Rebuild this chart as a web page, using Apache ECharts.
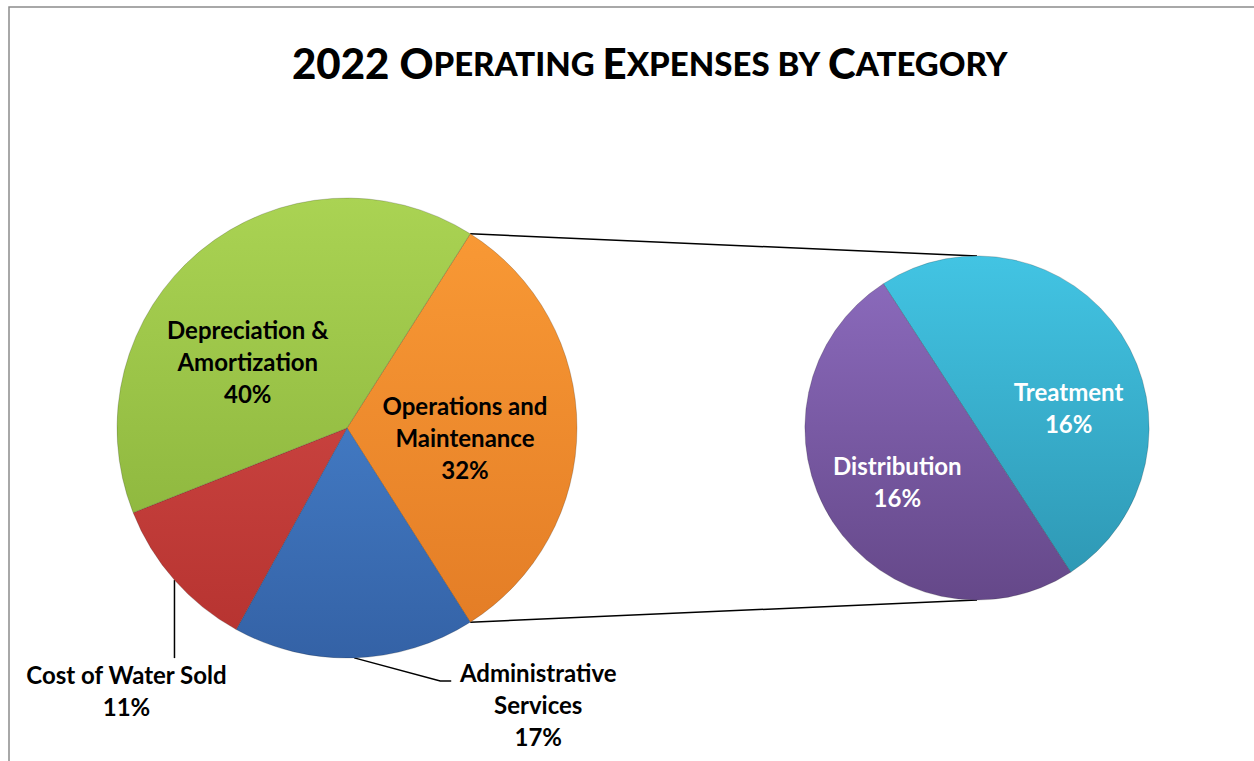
<!DOCTYPE html>
<html>
<head>
<meta charset="utf-8">
<script src="https://cdn.jsdelivr.net/npm/echarts@6/dist/echarts.min.js"></script>
<style>
html,body{margin:0;padding:0;background:#fff;}
#c{width:1254px;height:761px;}
</style>
</head>
<body>
<div id="c"></div>
<script>
// ---- data ----
const mainCategories = ['Operations and\nMaintenance', 'Administrative\nServices', 'Cost of Water Sold', 'Depreciation &\nAmortization'];
const mainValues = [32, 17, 11, 40];
const subCategories = ['Treatment', 'Distribution'];
const subValues = [16, 16];

// ---- styles ----
const mainTop = ['#FA9B36', '#4F8FDD', '#D9504C', '#AAD353'];
const mainBottom = ['#E27B25', '#3462A6', '#B5322F', '#84AD37'];
const subTop = ['#42C4E3', '#8D6CBF'];
const subBottom = ['#2D95B1', '#654889'];
const FONT = 'Lato';

const mainCenter = [347, 428], mainRadius = 230;
const subCenter = [977, 428], subRadius = 172;

const sum = a => a.reduce((s, v) => s + v, 0);
const mainTotal = sum(mainValues);
const mainStart = mainValues[0] / mainTotal * 360 / 2;
const subStart = 123;

function grad(c, r, top, bottom) {
  return {type: 'linear', x: 0, y: c[1] - r, x2: 0, y2: c[1] + r, global: true,
    colorStops: [{offset: 0, color: top}, {offset: 1, color: bottom}]};
}
function edgePoint(values, start, idx, center, r) {
  let acc = 0;
  for (let k = 0; k < idx; k++) acc += values[k];
  const a = (start - (acc + values[idx] / 2) / sum(values) * 360) * Math.PI / 180;
  return [center[0] + r * Math.cos(a), center[1] - r * Math.sin(a)];
}
function anglePoint(deg, center, r) {
  const a = deg * Math.PI / 180;
  return [center[0] + r * Math.cos(a), center[1] - r * Math.sin(a)];
}

const labelBase = {fontFamily: FONT, fontWeight: 'bold', fontSize: 24, lineHeight: 32, formatter: '{b}\n{c}%'};

const mainData = mainCategories.map((n, i) => {
  const outside = (i === 1 || i === 2);
  return {
    name: n, value: mainValues[i],
    itemStyle: {color: grad(mainCenter, mainRadius, mainTop[i], mainBottom[i])},
    label: Object.assign({}, labelBase, {show: true, position: outside ? 'outside' : 'inside', color: '#000'}),
    labelLine: {show: outside, lineStyle: {color: '#000', width: 1.5}}
  };
});
const subData = subCategories.map((n, i) => ({
  name: n, value: subValues[i],
  itemStyle: {color: grad(subCenter, subRadius, subTop[i], subBottom[i])},
  label: Object.assign({}, labelBase, {show: true, position: 'inside', color: '#fff'})
}));

const topA = anglePoint(mainStart, mainCenter, mainRadius);
const botA = anglePoint(-mainStart, mainCenter, mainRadius);

const chart = echarts.init(document.getElementById('c'), null, {renderer: 'svg'});
chart.setOption({
  backgroundColor: '#fff',
  animation: false,
  title: {
    text: '{b|2022 O}{s|PERATING }{b|E}{s|XPENSES BY }{b|C}{s|ATEGORY}',
    left: 287, top: 37,
    textStyle: {
      rich: {
        b: {fontFamily: FONT, fontWeight: 900, fontSize: 42, color: '#000'},
        s: {fontFamily: FONT, fontWeight: 900, fontSize: 33, color: '#000'}
      }
    }
  },
  graphic: [
    {type: 'rect', shape: {x: 9, y: 7, width: 1400, height: 900}, style: {fill: 'none', stroke: '#8c8c8c', lineWidth: 1.5}, silent: true, z: -10},
    {type: 'line', shape: {x1: topA[0], y1: topA[1], x2: subCenter[0], y2: subCenter[1] - subRadius}, style: {stroke: '#000', lineWidth: 1.5}, z: -1},
    {type: 'line', shape: {x1: botA[0], y1: botA[1], x2: subCenter[0], y2: subCenter[1] + subRadius}, style: {stroke: '#000', lineWidth: 1.5}, z: -1}
  ],
  series: [
    {
      type: 'pie', name: 'Operating Expenses',
      center: mainCenter, radius: mainRadius,
      startAngle: mainStart, clockwise: true,
      avoidLabelOverlap: false,
      itemStyle: {borderColor: 'rgba(0,0,0,0.18)', borderWidth: 1},
      labelLine: {length: 20, length2: 20},
      data: mainData,
      labelLayout: function (p) {
        const i = p.dataIndex;
        if (i === 2) {
          const a = edgePoint(mainValues, mainStart, 2, mainCenter, mainRadius);
          return {x: a[0] - 48, y: a[1] + 78, align: 'center', verticalAlign: 'top',
            labelLinePoints: [a, [a[0], a[1] + 78], [a[0], a[1] + 78]]};
        }
        if (i === 1) {
          const a = edgePoint(mainValues, mainStart, 1, mainCenter, mainRadius);
          return {x: a[0] + 184, y: a[1] - 1, align: 'center', verticalAlign: 'top',
            labelLinePoints: [a, [a[0] + 86, a[1] + 23], [a[0] + 97, a[1] + 23]]};
        }
        if (i === 3) return {dx: -24, dy: 24};
        if (i === 0) return {dx: 0, dy: 9};
      }
    },
    {
      type: 'pie', name: 'Operations and Maintenance',
      center: subCenter, radius: subRadius,
      startAngle: subStart, clockwise: true,
      itemStyle: {borderColor: 'rgba(0,0,0,0.18)', borderWidth: 1},
      data: subData,
      labelLayout: function (p) {
        if (p.dataIndex === 0) return {dx: 17, dy: 28};
        return {dx: -5, dy: 5};
      }
    }
  ]
});
</script>
</body>
</html>
